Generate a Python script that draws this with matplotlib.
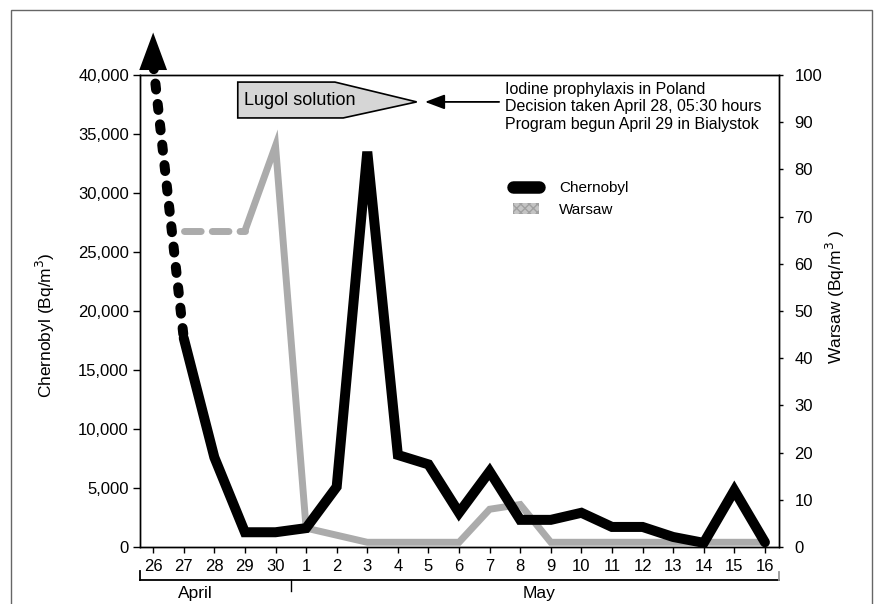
import numpy as np
import matplotlib
matplotlib.use("Agg")
import matplotlib.pyplot as plt
from matplotlib.lines import Line2D
from matplotlib.patches import Patch, Polygon, Rectangle
from matplotlib.transforms import blended_transform_factory

plt.rcParams["font.family"] = ["Liberation Sans", "DejaVu Sans"]

# days 26 April .. 16 May
days = ["26", "27", "28", "29", "30", "1", "2", "3", "4", "5", "6",
        "7", "8", "9", "10", "11", "12", "13", "14", "15", "16"]
# Chernobyl (Bq/m3); first value is off-scale (drawn dashed with arrow)
chernobyl = [41000, 17700, 7600, 1250, 1250, 1600, 5100, 33500, 7800, 7000, 2900,
             6400, 2300, 2300, 2900, 1700, 1700, 850, 350, 4800, 400]
# Warsaw (Bq/m3); no value on 26 April, 27-29 estimated (dashed)
warsaw = [np.nan, 67, 67, 67, 85, 4, 2.5, 1, 1, 1, 1,
          8, 9, 1, 1, 1, 1, 1, 1, 1, 1]
months = ["April", "May"]

BLACK = "#000000"
GREY = "#ababab"

x = np.arange(len(days))

fig = plt.figure(figsize=(8.81, 6.04), dpi=100)
ax = fig.add_axes([140 / 881, 1 - 547 / 604, 639 / 881, 472 / 604])
ax2 = ax.twinx()

# Warsaw on the right axis
ax2.plot(x[1:4], warsaw[1:4], color=GREY, lw=5, ls=(0, (2.4, 1.6)),
         dash_capstyle="round", zorder=2)
ax2.plot(x[3:], warsaw[3:], color=GREY, lw=5, solid_joinstyle="miter",
         solid_capstyle="butt", zorder=2)
ax2.set_ylim(0, 100)
ax2.set_yticks(np.arange(0, 101, 10))

# Chernobyl on the left axis (drawn on top)
ax.set_zorder(ax2.get_zorder() + 1)
ax.patch.set_visible(False)
ax.plot(x[:2], chernobyl[:2], color=BLACK, lw=7.2, ls=(0, (0.6, 1.45)),
        dash_capstyle="round", clip_on=False, zorder=3)
ax.plot(x[1:], chernobyl[1:], color=BLACK, lw=7.2, solid_joinstyle="miter",
        solid_capstyle="round", zorder=3)
ax.annotate("", xy=(x[0], 43600), xytext=(x[0], chernobyl[0]),
            arrowprops=dict(arrowstyle="-|>,head_length=1.35,head_width=0.5",
                            mutation_scale=20, lw=0, color=BLACK,
                            shrinkA=0, shrinkB=0),
            annotation_clip=False)

ax.set_xlim(-0.43, 20.46)
ax.set_ylim(0, 40000)
ax.set_yticks(np.arange(0, 40001, 5000))
ax.set_yticklabels([f"{v:,}" for v in range(0, 40001, 5000)])
ax.set_xticks(x)
ax.set_xticklabels(days)

ax.tick_params(axis="y", direction="out", length=5, width=1, pad=3, labelsize=12)
ax.tick_params(axis="x", direction="out", length=4, width=1, pad=4.5, labelsize=12)
ax2.tick_params(axis="y", direction="out", length=3, width=1, pad=8, labelsize=12)
for a in (ax, ax2):
    for s in a.spines.values():
        s.set_linewidth(1.0)

fig.text(45 / 881, 1 - 325 / 604, "Chernobyl (Bq/m$^3$)", rotation=90,
         ha="center", va="center", fontsize=12.5)
fig.text(835 / 881, 1 - 297 / 604, "Warsaw (Bq/m$^3$ )", rotation=90,
         ha="center", va="center", fontsize=12.5)

# month bracket under the day labels
tr = blended_transform_factory(ax.transData, ax.transAxes)
ya = ax.transAxes
ax.plot([0, 1], [-0.07, -0.07], color=BLACK, lw=1.3, transform=ya, clip_on=False)
ax.plot([0, 0], [-0.07, -0.051], color=BLACK, lw=1.3, transform=ya, clip_on=False)
ax.plot([1, 1], [-0.07, -0.053], color="#999999", lw=1.3, transform=ya, clip_on=False)
ax.plot([4.5, 4.5], [-0.07, -0.094], color=BLACK, lw=1.0, transform=tr, clip_on=False)
ax.text(1.37, -0.099, months[0], transform=tr, ha="center", va="center", fontsize=12.5)
ax.text(12.6, -0.099, months[1], transform=tr, ha="center", va="center", fontsize=12.5)

# Lugol solution arrow-box
box = Polygon([(0.153, 0.985), (0.305, 0.985), (0.433, 0.943), (0.318, 0.909),
               (0.153, 0.909)], closed=True, facecolor="#d6d6d6",
              edgecolor=BLACK, lw=1.2, transform=ax.transAxes, zorder=5)
ax.add_patch(box)
ax.text(0.25, 0.945, "Lugol solution", transform=ax.transAxes, ha="center",
        va="center", fontsize=13, zorder=6)

ax.annotate("", xy=(0.446, 0.943), xytext=(0.562, 0.943), xycoords="axes fraction",
            textcoords="axes fraction",
            arrowprops=dict(arrowstyle="-|>,head_length=0.8,head_width=0.3",
                            mutation_scale=15, lw=1.3, color=BLACK,
                            shrinkA=0, shrinkB=0))
ax.text(0.571, 0.985,
        "Iodine prophylaxis in Poland\nDecision taken April 28, 05:30 hours\n"
        "Program begun April 29 in Bialystok",
        transform=ax.transAxes, ha="left", va="top", fontsize=11.5,
        linespacing=1.2)

handles = [Line2D([0], [0], color=BLACK, lw=9, solid_capstyle="round"),
           Patch(facecolor="#c4c4c4", edgecolor="#a0a0a0", hatch="xxxx", lw=0)]
ax.legend(handles, ["Chernobyl", "Warsaw"], loc="upper left",
          bbox_to_anchor=(0.584, 0.775), frameon=False, fontsize=11,
          borderpad=0, borderaxespad=0, handlelength=1.7, handletextpad=1.3,
          labelspacing=0.5)

# outer frame
fig.add_artist(Rectangle((11 / 881, -0.1), 861 / 881, (594 / 604) + 0.1,
                         fill=False, ec="#666666", lw=1.0,
                         transform=fig.transFigure))

fig.savefig("out.png", dpi=100)
